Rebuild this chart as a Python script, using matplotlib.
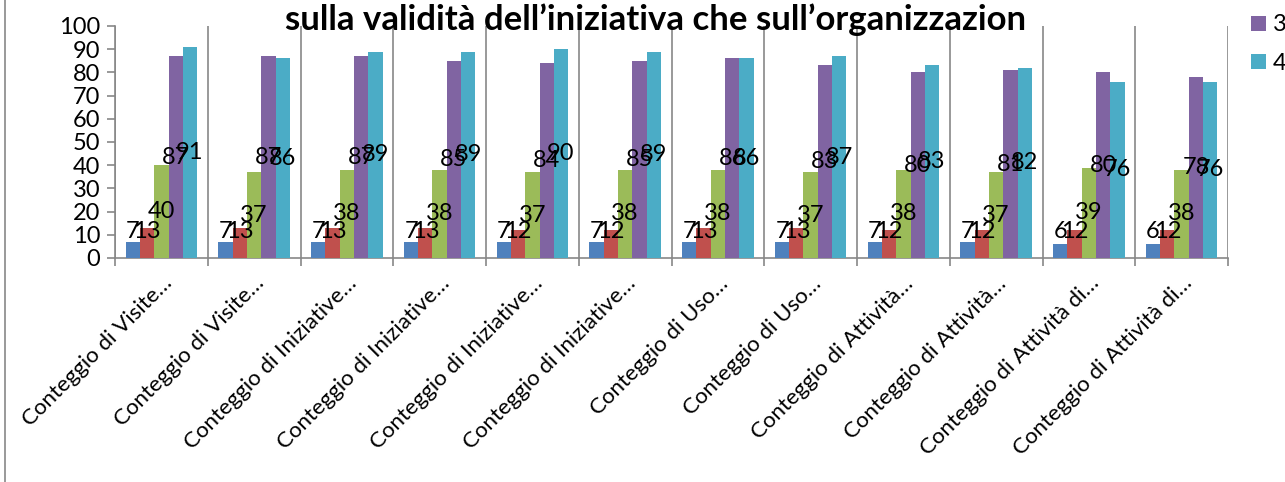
import matplotlib
matplotlib.use("Agg")
import matplotlib.pyplot as plt
import matplotlib.transforms as mtransforms
import numpy as np

categories = ["Conteggio di Visite…", "Conteggio di Visite…",
              "Conteggio di Iniziative…", "Conteggio di Iniziative…",
              "Conteggio di Iniziative…", "Conteggio di Iniziative…",
              "Conteggio di Uso…", "Conteggio di Uso…",
              "Conteggio di Attività…", "Conteggio di Attività…",
              "Conteggio di Attività di…", "Conteggio di Attività di…"]
series_names = ["0", "1", "2", "3", "4"]
s0 = [7, 7, 7, 7, 7, 7, 7, 7, 7, 7, 6, 6]
s1 = [13, 13, 13, 13, 12, 12, 13, 13, 12, 12, 12, 12]
s2 = [40, 37, 38, 38, 37, 38, 38, 37, 38, 37, 39, 38]
s3 = [87, 87, 87, 85, 84, 85, 86, 83, 80, 81, 80, 78]
s4 = [91, 86, 89, 89, 90, 89, 86, 87, 83, 82, 76, 76]
series = [s0, s1, s2, s3, s4]
colors = ["#4F81BD", "#C0504D", "#9BBB59", "#8064A2", "#4BACC6"]
title = "sulla validità dell’iniziativa che sull’organizzazion"

W, H = 1285, 482
fig = plt.figure(figsize=(W / 100, H / 100), dpi=100)
FONT = "Lato"
plt.rcParams['font.family'] = [FONT, 'DejaVu Sans']
fs_num = 17
fs_cat = 16

ax = fig.add_axes([115 / W, (H - 258) / H, (1228 - 115) / W, (258 - 26) / H])
x = np.arange(len(categories))
n = len(series)
bw = 1 / (n + 1.5)
gray = "#878787"
for i, (vals, c) in enumerate(zip(series, colors)):
    pos = x - (n - 1) / 2 * bw + i * bw
    ax.bar(pos, vals, width=bw, color=c, label=series_names[i], zorder=3)
    for p, v in zip(pos, vals):
        ax.text(p, max(v / 2, 11.6), str(v), ha="center", va="center",
                fontsize=fs_num, color="black", zorder=5)

ax.set_ylim(0, 100)
ax.set_xlim(-0.5, len(categories) - 0.5)
ax.set_yticks(np.arange(0, 101, 10))
ax.set_xticks(x)
ax.set_xticks(np.arange(-0.5, len(categories), 1), minor=True)
ax.set_xticklabels(categories, rotation=45, ha="right", rotation_mode="anchor",
                   fontsize=fs_cat)
shift = mtransforms.ScaledTranslation(8 / 100, 0, fig.dpi_scale_trans)
for lab in ax.get_xticklabels():
    lab.set_transform(lab.get_transform() + shift)
ax.tick_params(axis="x", which="major", length=0, pad=11)
ax.tick_params(axis="x", which="minor", length=5.5, width=1.2, color=gray,
               direction="out")
ax.tick_params(axis="y", length=5.5, width=1.2, color=gray, labelsize=fs_num, pad=5)
ax.grid(axis="x", which="minor", color=gray, linewidth=1.2, zorder=0)
for s in ["top", "right"]:
    ax.spines[s].set_visible(False)
for s in ["left", "bottom"]:
    ax.spines[s].set_color(gray)
    ax.spines[s].set_linewidth(1.2)

fig.text(656 / W, (H - 30) / H, title, ha="center", va="baseline",
         fontsize=25, fontweight="bold", color="black")

handles, labels = ax.get_legend_handles_labels()
fig.legend(handles[3:], labels[3:], loc="upper left",
           bbox_to_anchor=(1242 / W, (H - 5) / H), frameon=False,
           fontsize=fs_num, handlelength=0.6, handleheight=0.6,
           labelspacing=0.75, handletextpad=0.3, borderaxespad=0)

fig.add_artist(plt.Line2D([5 / W, 5 / W], [0, 1], transform=fig.transFigure,
                          color=gray, linewidth=1.2))

fig.savefig("out.png", dpi=100)
